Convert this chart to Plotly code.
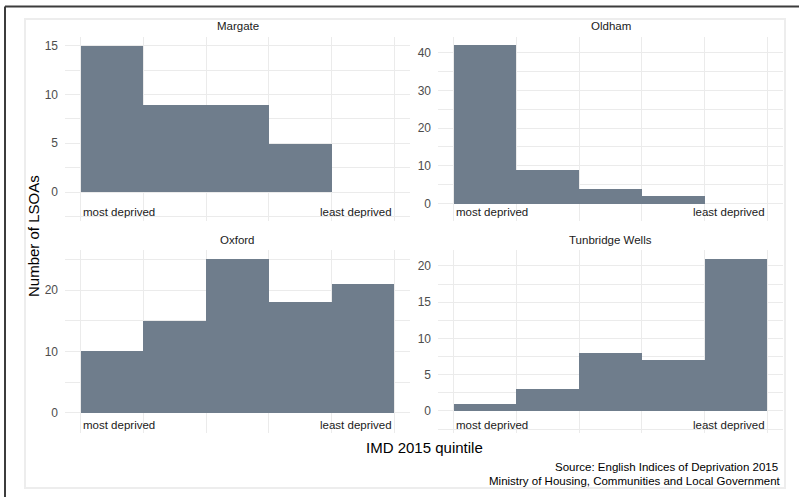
import plotly.graph_objects as go

# LSOA counts by IMD 2015 quintile (1 = most deprived, 5 = least deprived)
quintiles = [1, 2, 3, 4, 5]
margate = [15, 9, 9, 5, 0]
oldham = [42, 9, 4, 2, 0]
oxford = [10, 15, 25, 18, 21]
tunbridge_wells = [1, 3, 8, 7, 21]

towns = ["Margate", "Oldham", "Oxford", "Tunbridge Wells"]
counts = [margate, oldham, oxford, tunbridge_wells]

W, H = 799, 497
FONT = "Liberation Sans, Arial, sans-serif"
BAR = "#6F7D8C"
GRID = "#EBEBEB"


def fx(px):
    return px / W


def fy(py):
    return 1 - py / H


# panel geometry (pixels): x span, y span, y range, major/minor y ticks
panels = [
    dict(x=(65, 410), y=(36.7, 220.5), yr=[-2.92, 15.92],
         major=[0, 5, 10, 15], minor=[-2.5, 2.5, 7.5, 12.5]),
    dict(x=(438, 783), y=(36.7, 220.5), yr=[-4.5, 44.24],
         major=[0, 10, 20, 30, 40], minor=[5, 15, 25, 35]),
    dict(x=(65, 410), y=(250, 433.3), yr=[-3.36, 26.52],
         major=[0, 10, 20], minor=[5, 15, 25]),
    dict(x=(438, 783), y=(250, 433.3), yr=[-3.08, 22.2],
         major=[0, 5, 10, 15, 20], minor=[-2.5, 2.5, 7.5, 12.5, 17.5]),
]

fig = go.Figure()
annotations = []

for i, (town, vals, p) in enumerate(zip(towns, counts, panels)):
    n = "" if i == 0 else str(i + 1)
    xa, ya = "x" + n, "y" + n
    fig.add_trace(go.Bar(
        x=quintiles, y=vals, width=1, xaxis=xa, yaxis=ya,
        marker=dict(color=BAR, line=dict(width=0)),
        hoverinfo="x+y",
    ))
    fig.layout["xaxis" + n] = dict(
        domain=[fx(p["x"][0]), fx(p["x"][1])],
        range=[0.25, 5.75], anchor=ya,
        tickmode="array", tickvals=[0.5, 1.5, 2.5, 3.5, 4.5, 5.5],
        showticklabels=False, ticks="",
        showgrid=True, gridcolor=GRID, gridwidth=1.2,
        zeroline=False, showline=False, fixedrange=True,
    )
    fig.layout["yaxis" + n] = dict(
        domain=[fy(p["y"][1]), fy(p["y"][0])],
        range=p["yr"], anchor=xa,
        tickmode="array", tickvals=p["major"],
        ticks="", ticklabelstandoff=6,
        tickfont=dict(family=FONT, size=12, color="#4D4D4D"),
        showgrid=True, gridcolor=GRID, gridwidth=1.2,
        minor=dict(tickmode="array", tickvals=p["minor"], showgrid=True,
                   gridcolor=GRID, gridwidth=0.8, ticks=""),
        zeroline=False, showline=False, fixedrange=True,
    )

    # facet strip title
    cx = (p["x"][0] + p["x"][1]) / 2
    ty = p["y"][0] - 10.5
    annotations.append(dict(
        text=town, x=fx(cx), y=fy(ty), xref="paper", yref="paper",
        xanchor="center", yanchor="middle", showarrow=False,
        font=dict(family=FONT, size=11.5, color="#1A1A1A"),
    ))
    # end labels of the quintile scale
    ly = p["y"][1] - 8.5
    annotations.append(dict(
        text="most deprived", x=0.5, y=fy(ly), xref=xa, yref="paper",
        xanchor="left", yanchor="middle", showarrow=False,
        font=dict(family=FONT, size=11.5, color="#1A1A1A"),
    ))
    annotations.append(dict(
        text="least deprived", x=5.5, y=fy(ly), xref=xa, yref="paper",
        xanchor="right", yanchor="middle", showarrow=False,
        font=dict(family=FONT, size=11.5, color="#1A1A1A"),
    ))

# shared axis titles
annotations.append(dict(
    text="Number of LSOAs", x=fx(33.5), y=fy(236.5), xref="paper", yref="paper",
    textangle=-90, xanchor="center", yanchor="middle", showarrow=False,
    font=dict(family=FONT, size=15, color="#000000"),
))
annotations.append(dict(
    text="IMD 2015 quintile", x=fx(424), y=fy(447.5), xref="paper", yref="paper",
    xanchor="center", yanchor="middle", showarrow=False,
    font=dict(family=FONT, size=15, color="#000000"),
))

# caption, two right-aligned lines
annotations.append(dict(
    text="Source: English Indices of Deprivation 2015", x=fx(779.5), y=fy(466.8),
    xref="paper", yref="paper", xanchor="right", yanchor="middle",
    showarrow=False, font=dict(family=FONT, size=11.5, color="#000000"),
))
annotations.append(dict(
    text="Ministry of Housing, Communities and Local Government", x=fx(783),
    y=fy(480.6), xref="paper", yref="paper", xanchor="right", yanchor="middle",
    showarrow=False, font=dict(family=FONT, size=11.5, color="#000000"),
))

shapes = [
    # light plot-background border
    dict(type="rect", xref="paper", yref="paper",
         x0=fx(25), x1=fx(785), y0=fy(488), y1=fy(19),
         line=dict(color="#EDEDED", width=2), fillcolor="rgba(0,0,0,0)",
         layer="below"),
    # dark outer frame (left and top edges)
    dict(type="line", xref="paper", yref="paper",
         x0=fx(5), x1=fx(5), y0=0, y1=fy(6.5),
         line=dict(color="#3C3C3C", width=2)),
    dict(type="line", xref="paper", yref="paper",
         x0=fx(5), x1=1, y0=fy(6.5), y1=fy(6.5),
         line=dict(color="#3C3C3C", width=2)),
]

fig.update_layout(
    width=W, height=H, autosize=False,
    margin=dict(l=0, r=0, t=0, b=0),
    paper_bgcolor="white", plot_bgcolor="white",
    showlegend=False, bargap=0,
    annotations=annotations, shapes=shapes,
    font=dict(family=FONT),
)

fig.write_html("out.html", config={"displayModeBar": False})
